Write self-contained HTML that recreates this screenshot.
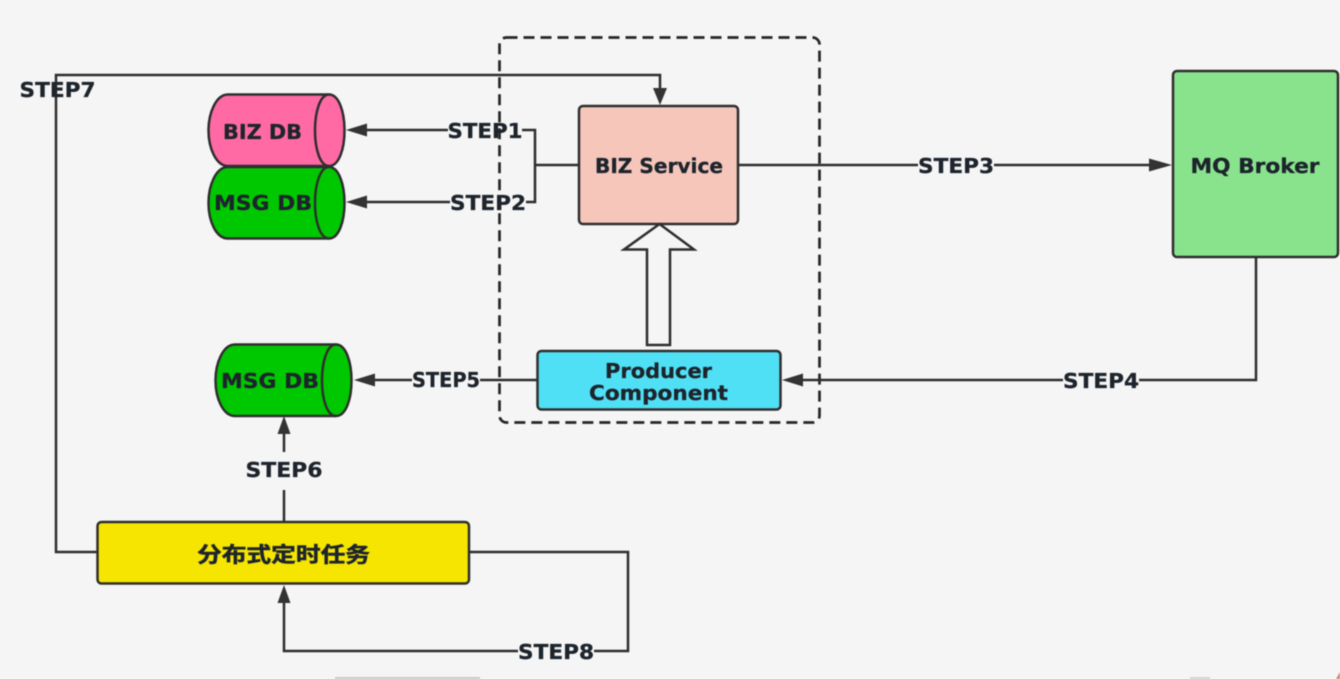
<!DOCTYPE html>
<html><head><meta charset="utf-8"><style>
html,body{margin:0;padding:0;background:#f5f5f5;width:1340px;height:679px;overflow:hidden}
svg{display:block;filter:blur(.45px)}
text{font-family:"DejaVu Sans","Noto Sans CJK SC",sans-serif;font-weight:700;fill:#1d242c;stroke:#1d242c;stroke-width:.3;text-anchor:middle;font-size:20px}
.l{fill:none;stroke:#2e2e2e;stroke-width:2.5}
.a{fill:#333;stroke:none}
.b{stroke:#2e2e2e;stroke-width:2.5}
</style></head><body>
<svg width="1340" height="679" viewBox="0 0 1340 679" xmlns="http://www.w3.org/2000/svg">
<rect width="1340" height="679" fill="#f5f5f5"/>
<rect x="499.500" y="37.500" width="320" height="385" rx="7" fill="none" stroke="#262626" stroke-width="2.700" stroke-dasharray="11 6"/>

<path class="l" d="M97 552H56V75H660V90"/>
<path class="a" d="M660 105l-7-17h14z"/>
<path class="l" d="M362 130H448M522 130H535V202H526M450 202H360M535 165H579"/>
<path class="a" d="M346 130l21-6.500v13zM346 202l21-6.500v13z"/>
<path class="l" d="M738 165H918M994 165H1155"/>
<path class="a" d="M1172 165l-23-6.500v13z"/>
<path class="l" d="M1256 257V380H1139M1063 380H800"/>
<path class="a" d="M782 380l21-6.500v13z"/>
<path class="l" d="M537 380H480M412 380H372"/>
<path class="a" d="M354 380l21-6.500v13z"/>
<path class="l" d="M284 521V490M284 452V432"/>
<path class="a" d="M284 416l-6.500 18h13z"/>
<path class="l" d="M469 552H628V651H594M518 651H284V600"/>
<path class="a" d="M284 585l-6.500 18h13z"/>

<rect class="b" x="579" y="106" width="159" height="118" rx="4" fill="#f6c6bb"/>
<rect class="b" x="1173" y="71" width="165" height="186" rx="4" fill="#89e38d"/>
<rect class="b" x="537.500" y="351" width="243" height="58.500" rx="4" fill="#50e0f5"/>
<rect class="b" x="97.500" y="522" width="371.500" height="61.500" rx="4" fill="#f5e500"/>

<path class="b" fill="#f5f5f5" d="M659.500 224L694 249.500H670V345H647V249.500H624Z"/>

<path class="b" fill="#ff6aa5" d="M228 94.500H329C339 94.500 344.500 112 344.500 130.500S339 166 329 166H228C216 166 208.500 148 208.500 130.500S216 94.500 228 94.500Z"/>
<path class="l" d="M329 94.500C320 94.500 315 112 315 130.500S320 166 329 166"/>
<path class="b" fill="#00c800" d="M228 167H329C339 167 344.500 185 344.500 203S339 238.500 329 238.500H228C216 238.500 208.500 221 208.500 203S216 167 228 167Z"/>
<path class="l" d="M329 167C320 167 315 185 315 203S320 238.500 329 238.500"/>
<path class="b" fill="#00c800" d="M235 344.500H336C346 344.500 351.500 362 351.500 380.500S346 416 336 416H235C223 416 215.500 398 215.500 380.500S223 344.500 235 344.500Z"/>
<path class="l" d="M336 344.500C327 344.500 322 362 322 380.500S327 416 336 416"/>

<text x="262.500" y="139" textLength="79" lengthAdjust="spacingAndGlyphs">BIZ DB</text>
<text x="263" y="210" textLength="98" lengthAdjust="spacingAndGlyphs">MSG DB</text>
<text x="270" y="388" textLength="98" lengthAdjust="spacingAndGlyphs">MSG DB</text>
<text x="659" y="173" textLength="128" lengthAdjust="spacingAndGlyphs" font-size="19">BIZ Service</text>
<text x="1255" y="173" textLength="129" lengthAdjust="spacingAndGlyphs" font-size="19">MQ Broker</text>
<text x="658.500" y="378" textLength="107" lengthAdjust="spacingAndGlyphs" font-size="18">Producer</text>
<text x="658.500" y="400" textLength="139" lengthAdjust="spacingAndGlyphs" font-size="18">Component</text>
<text x="283.500" y="562" textLength="173" lengthAdjust="spacingAndGlyphs" style="font-size:21px;stroke-width:.5">分布式定时任务</text>

<text x="57.500" y="97" textLength="76" lengthAdjust="spacingAndGlyphs">STEP7</text>
<text x="485" y="138" textLength="75" lengthAdjust="spacingAndGlyphs">STEP1</text>
<text x="488" y="210" textLength="76" lengthAdjust="spacingAndGlyphs">STEP2</text>
<text x="956" y="173" textLength="76" lengthAdjust="spacingAndGlyphs">STEP3</text>
<text x="1101" y="388" textLength="76" lengthAdjust="spacingAndGlyphs">STEP4</text>
<text x="446" y="387" textLength="68" lengthAdjust="spacingAndGlyphs">STEP5</text>
<text x="284" y="477" textLength="77" lengthAdjust="spacingAndGlyphs">STEP6</text>
<text x="556" y="659" textLength="76" lengthAdjust="spacingAndGlyphs">STEP8</text>

<rect x="335" y="677" width="145" height="2" fill="#c9c9c9"/>
<rect x="1190" y="677" width="20" height="2" fill="#d2d2d2"/>
<path d="M1340 672L1336 679H1340Z" fill="#c98a70"/>
</svg>
</body></html>
